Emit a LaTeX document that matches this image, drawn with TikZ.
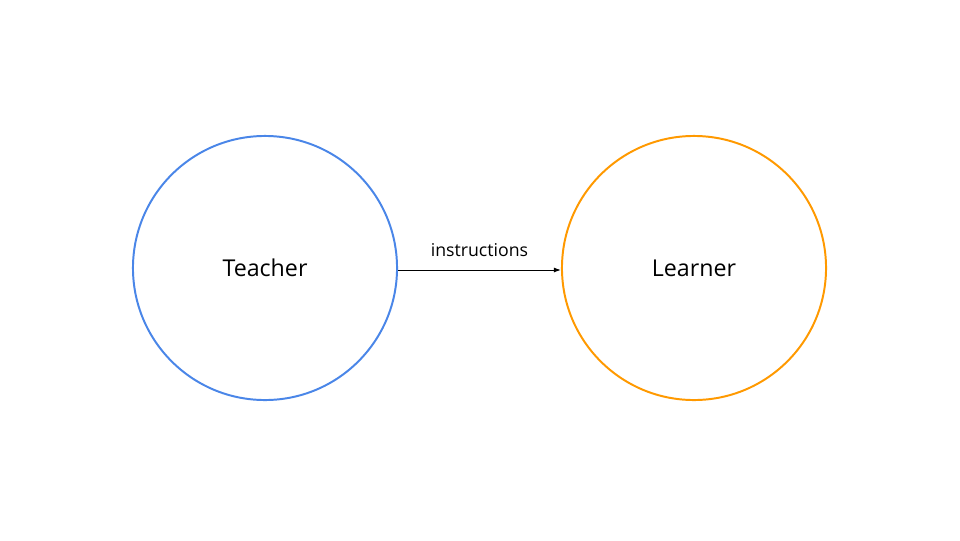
\documentclass[tikz,border=0pt]{standalone}
\usepackage{fontspec}
\setmainfont{Open Sans}
\usetikzlibrary{arrows.meta}
\definecolor{teacherblue}{HTML}{4A86E8}
\definecolor{learnerorange}{HTML}{FF9900}
\begin{document}
\begin{tikzpicture}[x=0.025cm, y=-0.025cm,
    agent/.style={circle, draw, line width=1.4pt, minimum size=6.6cm, inner sep=0pt, font=\fontsize{16.5}{19}\selectfont},
    every node/.style={font=\fontsize{12.6}{14}\selectfont}]

    % canvas
    \useasboundingbox (0,0) rectangle (960,540);

    % the two circles
    \node[agent, draw=teacherblue] (teacher) at (265,268) {Teacher};
    \node[agent, draw=learnerorange] (learner) at (694,268) {Learner};

    % connector
    \draw[-{Latex[length=5pt, width=3.5pt]}, line width=0.7pt] (teacher.east |- 0,270) -- (learner.west |- 0,270) node[midway, above=6pt] (lbl) {instructions};

\end{tikzpicture}
\end{document}
